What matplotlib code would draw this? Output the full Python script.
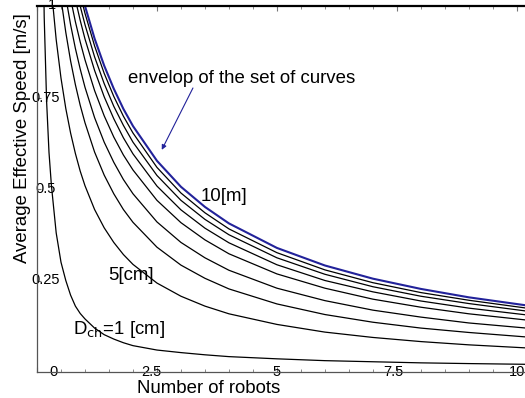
"""
Average effective speed vs number of robots, for several D_ch values
"""
import matplotlib
matplotlib.use("Agg")
import matplotlib.pyplot as plt
from matplotlib.transforms import ScaledTranslation

plt.rcParams['font.family'] = ['Liberation Sans', 'DejaVu Sans']

# number of robots (sample points)
robots = [0.1, 0.15, 0.2, 0.25, 0.3, 0.4, 0.5, 0.6, 0.7, 0.8, 0.9, 1.0, 1.2, 1.4,
          1.6, 1.8, 2.0, 2.5, 3.0, 3.5, 4.0, 5.0, 6.0, 7.0, 8.0, 9.0, 10.2]

# black curves, from D_ch = 1 cm (bottom) upwards
speed_1cm = [1.45, 0.97, 0.74, 0.60, 0.51, 0.38, 0.30, 0.25, 0.21, 0.18, 0.16, 0.145, 0.12, 0.102,
             0.09, 0.08, 0.072, 0.06, 0.053, 0.047, 0.042, 0.036, 0.031, 0.028, 0.025, 0.023, 0.021]
speed_5cm = [1.495, 1.35, 1.23, 1.13, 1.045, 0.908, 0.803, 0.72, 0.653, 0.597, 0.549, 0.509, 0.444, 0.394,
             0.354, 0.321, 0.294, 0.243, 0.207, 0.18, 0.159, 0.13, 0.109, 0.0944, 0.0831, 0.0742, 0.0658]
speed_c3 = [1.695, 1.566, 1.455, 1.358, 1.274, 1.133, 1.02, 0.928, 0.85, 0.785, 0.729, 0.681, 0.601, 0.538,
            0.487, 0.444, 0.409, 0.341, 0.292, 0.256, 0.227, 0.186, 0.157, 0.136, 0.12, 0.108, 0.0957]
speed_c4 = [1.688, 1.585, 1.494, 1.413, 1.34, 1.215, 1.111, 1.024, 0.949, 0.884, 0.828, 0.778, 0.695, 0.628,
            0.573, 0.526, 0.487, 0.41, 0.354, 0.312, 0.278, 0.229, 0.195, 0.169, 0.15, 0.134, 0.12]
speed_c5 = [1.676, 1.591, 1.514, 1.444, 1.38, 1.268, 1.173, 1.091, 1.02, 0.957, 0.902, 0.853, 0.769, 0.70,
            0.642, 0.593, 0.552, 0.469, 0.408, 0.361, 0.323, 0.268, 0.229, 0.199, 0.177, 0.159, 0.142]
speed_c6 = [1.732, 1.649, 1.574, 1.506, 1.443, 1.332, 1.236, 1.154, 1.081, 1.018, 0.961, 0.91, 0.824, 0.752,
            0.692, 0.64, 0.596, 0.508, 0.443, 0.393, 0.353, 0.293, 0.25, 0.219, 0.194, 0.1745, 0.156]
speed_c7 = [1.756, 1.677, 1.604, 1.538, 1.477, 1.368, 1.274, 1.193, 1.121, 1.057, 1.0, 0.949, 0.861, 0.788,
            0.726, 0.674, 0.628, 0.537, 0.469, 0.417, 0.375, 0.312, 0.267, 0.233, 0.207, 0.187, 0.1665]
speed_10m = [1.78, 1.705, 1.637, 1.571, 1.51, 1.402, 1.308, 1.226, 1.153, 1.089, 1.032, 0.98, 0.891, 0.816,
             0.753, 0.699, 0.653, 0.559, 0.489, 0.435, 0.391, 0.326, 0.279, 0.244, 0.217, 0.196, 0.1746]
# blue envelope
envelope = [1.783, 1.708, 1.64, 1.577, 1.519, 1.414, 1.323, 1.242, 1.171, 1.108, 1.051, 1.0, 0.911, 0.837,
            0.774, 0.719, 0.672, 0.577, 0.506, 0.451, 0.406, 0.339, 0.291, 0.255, 0.227, 0.204, 0.182]

curves = [speed_1cm, speed_5cm, speed_c3, speed_c4, speed_c5, speed_c6, speed_c7, speed_10m]

x_ticks = [0, 2.5, 5, 7.5, 10]
x_ticklabels = ['0', '2.5', '5', '7.5', '10']
y_ticks = [0.25, 0.5, 0.75, 1]
y_ticklabels = ['0.25', '0.5', '0.75', '1']

W, H = 525, 398
fig = plt.figure(figsize=(W / 100, H / 100), dpi=100)
ax = fig.add_axes([37 / W, (H - 372) / H, (W - 37) / W, (372 - 6) / H])

for c in curves:
    ax.plot(robots, c, color='black', lw=0.9)
ax.plot(robots, envelope, color='#22229a', lw=1.5)

ax.set_xlim(0, 10.17)
ax.set_ylim(0, 1)

# axes look
for side in ['left', 'bottom']:
    ax.spines[side].set_color('#555555')
    ax.spines[side].set_linewidth(0.9)
ax.spines['top'].set_color('black')
ax.spines['top'].set_linewidth(1.6)
ax.spines['right'].set_visible(False)

ax.set_xticks(x_ticks)
ax.set_xticklabels(x_ticklabels)
ax.set_xticks([v * 0.5 for v in range(21) if v % 5 != 0], minor=True)
ax.set_yticks(y_ticks)
ax.set_yticklabels(y_ticklabels)
ax.tick_params(axis='x', which='both', direction='in', top=True, color='#777777',
               labelsize=10.5, pad=-5)
ax.tick_params(axis='x', which='major', length=3.5)
ax.tick_params(axis='x', which='minor', length=2)
ax.tick_params(axis='y', which='both', direction='in', length=3, color='#777777',
               labelsize=10.5, pad=-6)
for lab in ax.get_yticklabels():
    lab.set_horizontalalignment('center')
    lab.set_verticalalignment('center')
# mathematica-style shifted labels
dpi_tr = fig.dpi_scale_trans
ax.get_xticklabels()[0].set_transform(ax.get_xticklabels()[0].get_transform()
                                      + ScaledTranslation(0.16, 0, dpi_tr))
ax.get_xticklabels()[1].set_transform(ax.get_xticklabels()[1].get_transform()
                                      + ScaledTranslation(-0.06, 0, dpi_tr))
ax.get_xticklabels()[3].set_transform(ax.get_xticklabels()[3].get_transform()
                                      + ScaledTranslation(-0.04, 0, dpi_tr))
ax.get_yticklabels()[3].set_transform(ax.get_yticklabels()[3].get_transform()
                                      + ScaledTranslation(0.07, 0.01, dpi_tr))
ax.patch.set_visible(False)

ax.set_xlabel('Number of robots', fontsize=13.4)
ax.xaxis.set_label_coords((209 - 37) / (W - 37), -0.022)
ax.set_ylabel('Average Effective Speed [m/s]', fontsize=13.4)
ax.yaxis.set_label_coords(-6 / (W - 37), (372 - 138) / 366)

# annotations
ax.text(1.9, 0.803, 'envelop of the set of curves', fontsize=13.4, ha='left', va='center')
ax.annotate('', xy=(2.6, 0.607), xytext=(3.25, 0.776),
            arrowprops=dict(arrowstyle='-|>', color='#22229a', lw=0.8,
                            mutation_scale=7, shrinkA=0, shrinkB=0))
ax.text(3.42, 0.48, '10[m]', fontsize=13.4, ha='left', va='center')
ax.text(1.48, 0.265, '5[cm]', fontsize=13.4, ha='left', va='center')
ax.text(0.75, 0.115, 'D$_{\\mathrm{ch}}$=1 [cm]', fontsize=13.4, ha='left', va='center')

fig.savefig('out.png', dpi=100)
